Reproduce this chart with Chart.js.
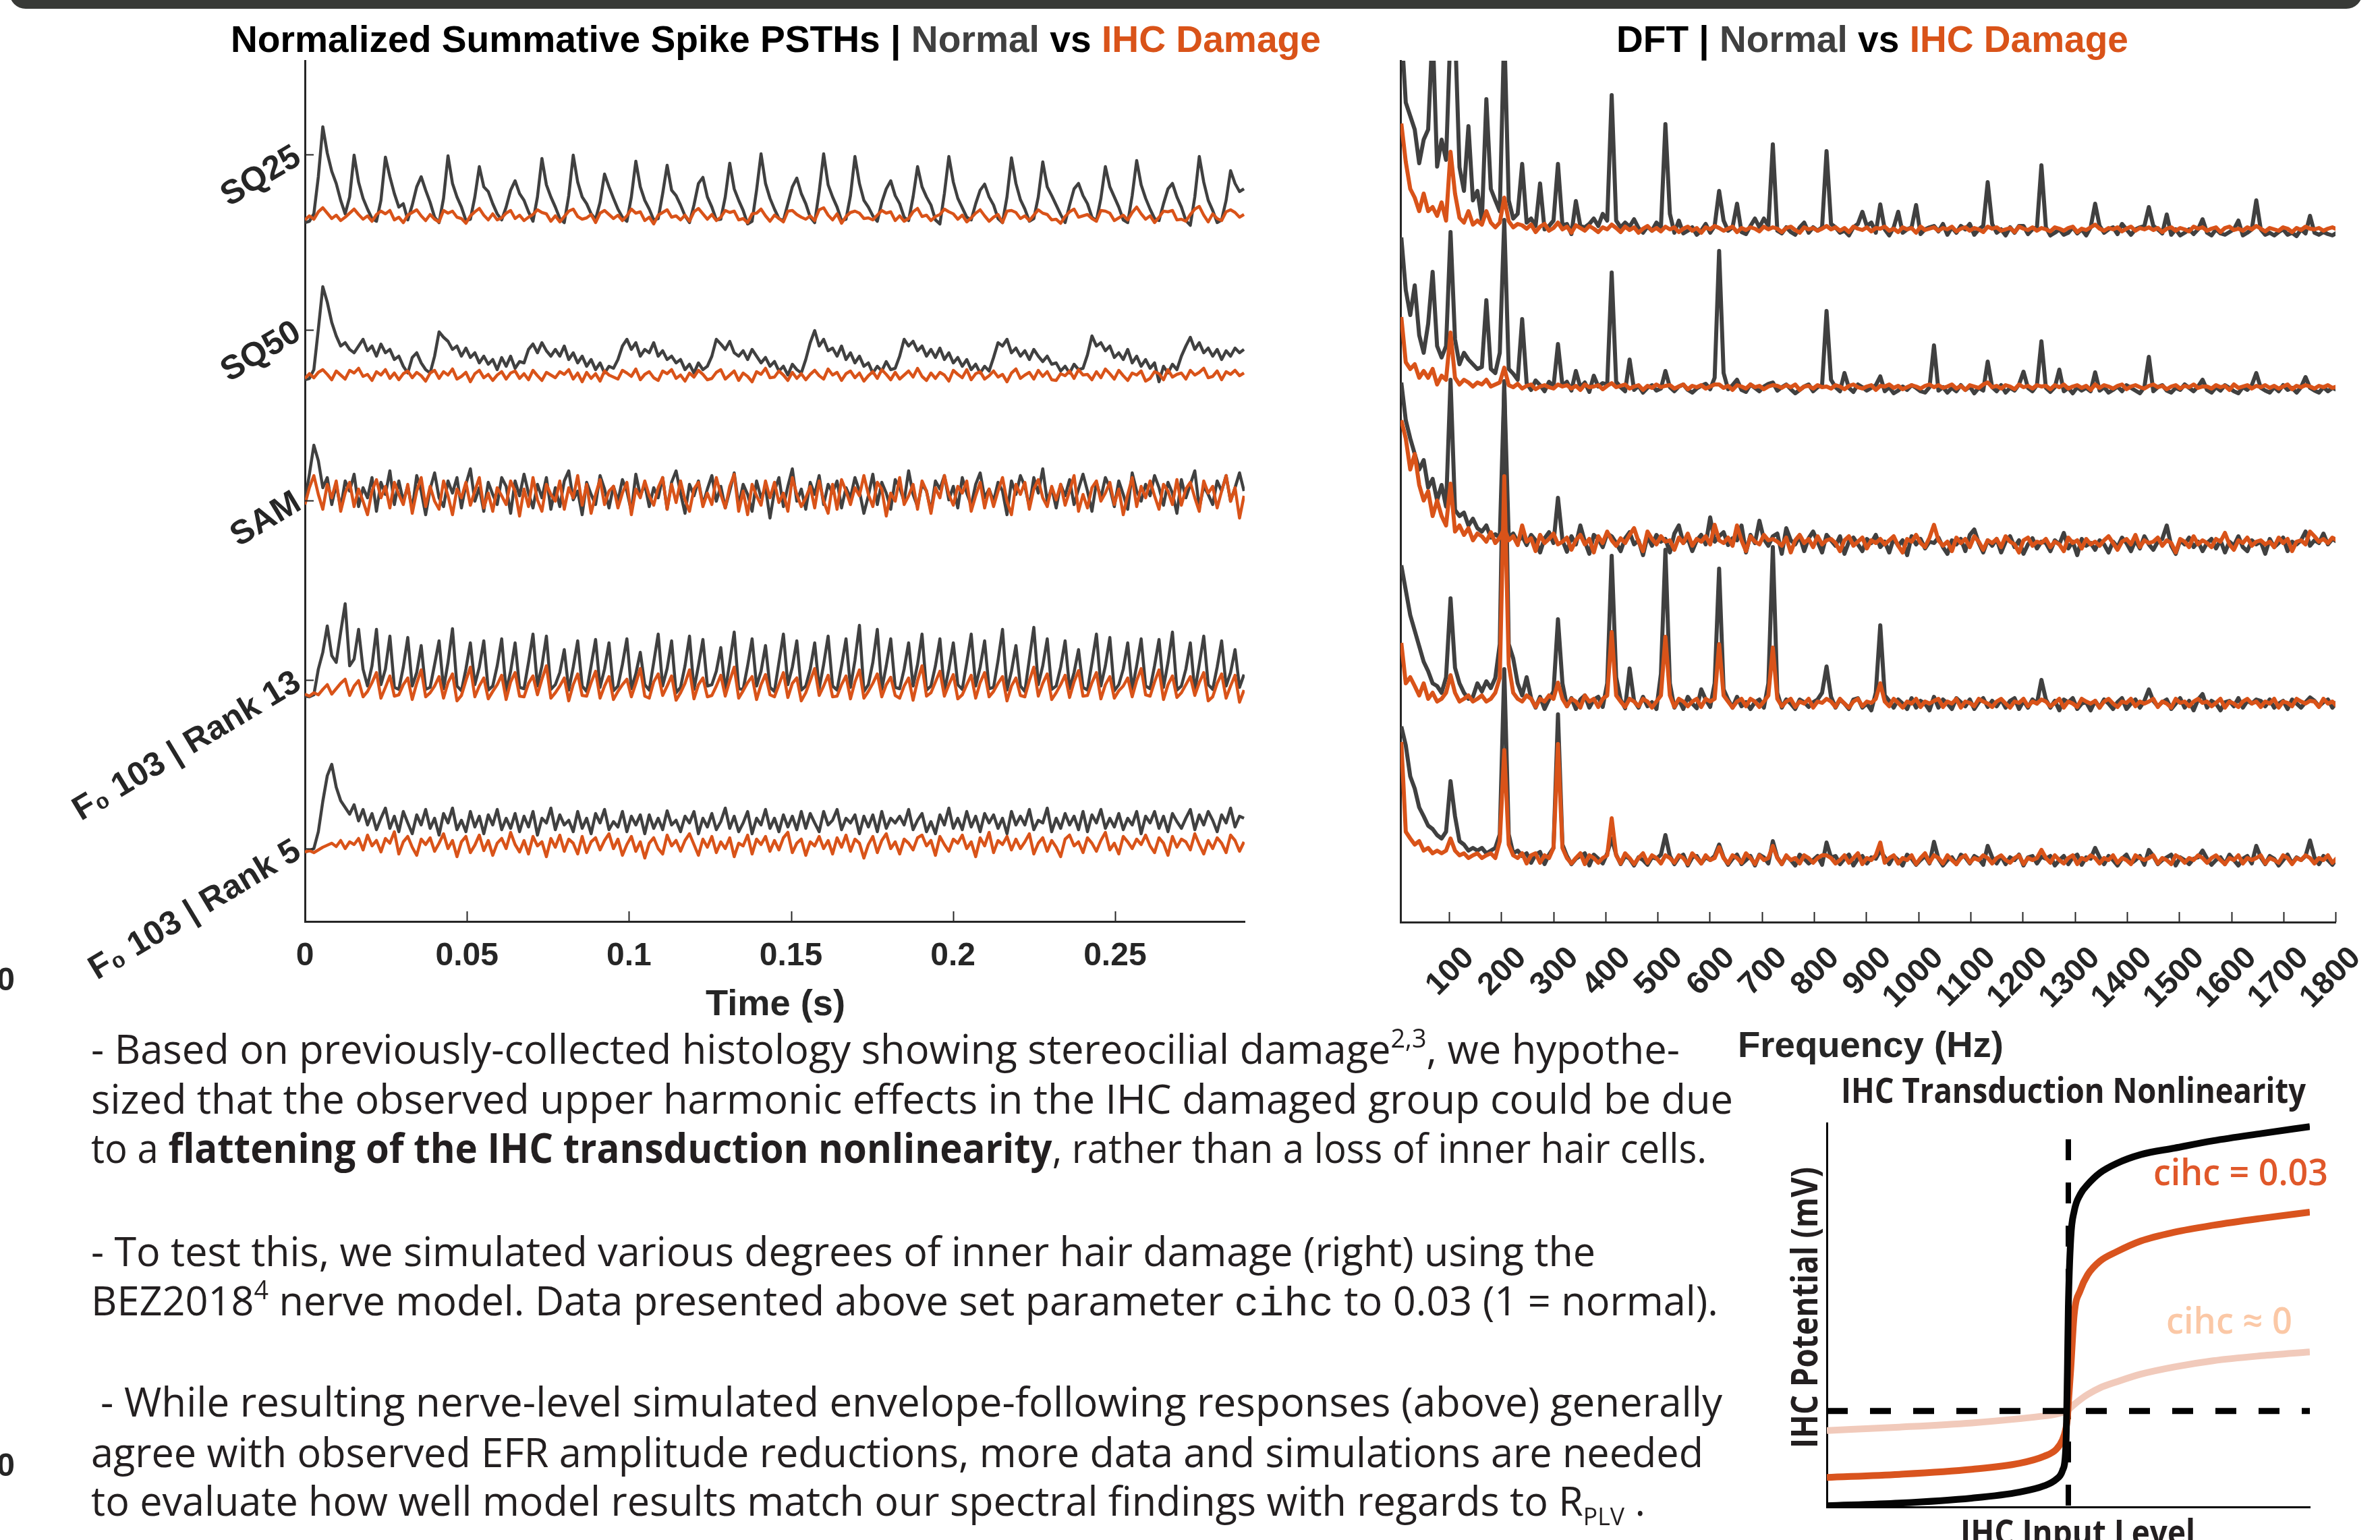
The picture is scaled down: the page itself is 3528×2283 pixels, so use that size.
<!DOCTYPE html>
<html>
<head>
<meta charset="utf-8">
<script src="https://cdn.jsdelivr.net/npm/chart.js@4.4.1/dist/chart.umd.min.js"></script>
<style>
  html, body { margin: 0; padding: 0; background: #fff; width: 3528px; height: 2283px; overflow: hidden; }
  body { position: relative; }
  canvas { position: absolute; }
  svg { position: absolute; left: 0; top: 0; }
</style>
</head>
<body>
<canvas id="psthChart" width="1900" height="1600" style="left:0;top:0"></canvas>
<canvas id="dftChart" width="1578" height="1600" style="left:1950px;top:0"></canvas>
<canvas id="ihcChart" width="928" height="683" style="left:2600px;top:1600px"></canvas>

<svg width="3528" height="2283" viewBox="0 0 3528 2283" xmlns="http://www.w3.org/2000/svg">
  <rect x="14" y="-40" width="3488" height="53" rx="24" fill="#383a37"/>

  <!-- panel titles -->
  <text x="342" y="77" textLength="1616" lengthAdjust="spacingAndGlyphs" font-family="'Liberation Sans', Arial, sans-serif" font-weight="bold" font-size="55" fill="#000">Normalized Summative Spike PSTHs | <tspan fill="#404040">Normal</tspan> vs <tspan fill="#D95319">IHC Damage</tspan></text>
  <text x="2396" y="77" textLength="759" lengthAdjust="spacingAndGlyphs" font-family="'Liberation Sans', Arial, sans-serif" font-weight="bold" font-size="55" fill="#000">DFT | <tspan fill="#404040">Normal</tspan> vs <tspan fill="#D95319">IHC Damage</tspan></text>

  <!-- axis titles -->
  <text x="1046" y="1505" textLength="207" lengthAdjust="spacingAndGlyphs" font-family="'Liberation Sans', Arial, sans-serif" font-weight="bold" font-size="54" fill="#262626">Time (s)</text>
  <text x="2576" y="1567" textLength="394" lengthAdjust="spacingAndGlyphs" font-family="'Liberation Sans', Arial, sans-serif" font-weight="bold" font-size="54" fill="#262626">Frequency (Hz)</text>

  <!-- cut-off labels of the neighbouring panel -->
  <text x="22" y="1468" text-anchor="end" font-family="'Liberation Sans', Arial, sans-serif" font-weight="bold" font-size="48" fill="#262626">0</text>
  <text x="22" y="2188" text-anchor="end" font-family="'Liberation Sans', Arial, sans-serif" font-weight="bold" font-size="48" fill="#262626">0</text>

  <!-- body text -->
  <g font-family="'Open Sans', 'Noto Sans', sans-serif" font-size="60" fill="#231f20">
    <text x="135" y="1577" textLength="2355" lengthAdjust="spacingAndGlyphs">- Based on previously-collected histology showing stereocilial damage<tspan font-size="38" dy="-24">2,3</tspan><tspan dy="24">, we hypothe-</tspan></text>
    <text x="135" y="1651" textLength="2434" lengthAdjust="spacingAndGlyphs">sized that the observed upper harmonic effects in the IHC damaged group could be due</text>
    <text x="135" y="1724" textLength="2395" lengthAdjust="spacingAndGlyphs">to a <tspan font-weight="bold">flattening of the IHC transduction nonlinearity</tspan>, rather than a loss of inner hair cells.</text>
    <text x="135" y="1877" textLength="2230" lengthAdjust="spacingAndGlyphs">- To test this, we simulated various degrees of inner hair damage (right) using the</text>
    <text x="135" y="1950" textLength="2412" lengthAdjust="spacingAndGlyphs">BEZ2018<tspan font-size="38" dy="-24">4</tspan><tspan dy="24"> nerve model. Data presented above set parameter </tspan><tspan font-family="'Liberation Mono', monospace" font-size="62">cihc</tspan> to 0.03 (1 = normal).</text>
    <text x="149" y="2100" textLength="2404" lengthAdjust="spacingAndGlyphs">- While resulting nerve-level simulated envelope-following responses (above) generally</text>
    <text x="135" y="2175" textLength="2390" lengthAdjust="spacingAndGlyphs">agree with observed EFR amplitude reductions, more data and simulations are needed</text>
    <text x="135" y="2247" textLength="2304" lengthAdjust="spacingAndGlyphs">to evaluate how well model results match our spectral findings with regards to R<tspan font-size="36" dy="14">PLV</tspan><tspan dy="-14"> .</tspan></text>
  </g>

  <!-- inset texts -->
  <g font-family="'Open Sans', 'Noto Sans', sans-serif">
    <text x="2729" y="1635" textLength="689" lengthAdjust="spacingAndGlyphs" font-weight="bold" font-size="52" fill="#231f20">IHC Transduction Nonlinearity</text>
    <text x="3192" y="1757" textLength="259" lengthAdjust="spacingAndGlyphs" font-weight="600" font-size="54" fill="#e0582a">cihc = 0.03</text>
    <text x="3211" y="1977" textLength="187" lengthAdjust="spacingAndGlyphs" font-weight="600" font-size="54" fill="#fbc8a6">cihc ≈ 0</text>
    <text transform="translate(2694,2147) rotate(-90)" x="0" y="0" textLength="417" lengthAdjust="spacingAndGlyphs" font-weight="bold" font-size="54" fill="#231f20">IHC Potential (mV)</text>
    <text x="2906" y="2290" textLength="348" lengthAdjust="spacingAndGlyphs" font-weight="bold" font-size="52" fill="#231f20">IHC Input Level</text>
  </g>
</svg>

<script>
// ---------- PSTH data (values in px-like units above each row's baseline) ----------
const psthDt = 0.00138;
const psthTickValues = [0, 0.05, 0.1, 0.15, 0.2, 0.25];
const psthTickLabels = ["0", "0.05", "0.1", "0.15", "0.2", "0.25"];
const psthRowNames = ["SQ25", "SQ50", "SAM", "F\u2080 103 | Rank 13", "F\u2080 103 | Rank 5"];
const psthRowLevels = [1137, 877, 624, 358, 108];
const psthBaselines = [1044, 808, 623, 339, 108];

const psthSQ25Normal = [
  -8,-6,5,60,134,95,68, 50,25,5,30,92,52,28,
  12,-2,-6,25,89,60,35, 15,20,-4,18,45,60,40,
  22,0,-8,28,91,50,30, 15,-5,-3,30,75,45,38,
  20,5,-4,15,40,54,35, 25,8,-6,30,87,48,30,
  15,-2,-8,32,92,52,30, 20,5,-3,22,64,45,28,
  12,0,-6,30,83,45,25, 12,-4,-2,35,77,40,32,
  18,2,-8,18,50,59,30, 15,-4,-3,30,80,42,25,
  10,-10,-6,40,94,50,28, 12,-2,-5,20,45,58,35,
  20,0,-8,38,94,48,30, 15,-5,-3,32,90,50,25,
  15,2,-6,22,42,54,32, 20,0,-5,30,75,45,30,
  18,-4,-10,35,90,52,28, 14,0,-4,20,40,49,30,
  18,-2,-8,30,88,50,26, 12,-6,-2,30,82,45,32,
  18,4,-8,18,42,50,32, 20,0,-5,28,75,45,30,
  15,-4,-8,32,84,48,28, 12,-2,-5,20,42,50,30,
  15,-5,-12,30,90,52,25, 10,-8,-4,25,69,50,38,
  42
];
const psthSQ25Damage = [
  -4,2,-3,8,14,6,-2, 3,-5,0,6,12,4,-3,
  2,-6,4,9,5,10,-4, 0,-8,3,7,11,2,-5,
  4,-3,-7,10,6,9,0, -2,-9,2,8,13,3,-4,
  5,-4,-1,6,10,-2,3, -5,0,4,11,7,5,-6,
  2,-7,1,9,12,1,-3, -1,4,-8,6,10,4,-2,
  3,-5,2,12,6,8,-5, 0,-10,3,7,11,0,2,
  -4,3,-6,8,13,5,-3, 4,-5,0,10,7,9,-4,
  -2,-8,5,6,12,2,-6, 3,-2,-7,9,10,4,0,
  -3,2,-5,11,14,3,-4, 5,-9,1,7,9,6,-2,
  -1,-4,3,10,6,8,-5, 2,-6,-2,8,13,1,3,
  -5,1,4,12,8,5,-3, 3,-7,-1,6,11,2,-6,
  0,4,-8,9,10,7,-2, 2,-5,3,11,6,4,-4,
  -3,-9,1,8,12,0,2, 4,-2,-6,10,9,6,-5,
  -1,3,-4,7,15,5,-3, 2,-8,0,9,8,10,-4,
  -3,-6,4,12,16,3,-7, 5,-2,-5,8,11,7,0,
  4
];
const psthSQ50Normal = [
  -5,-3,10,70,133,110,80, 60,45,50,40,35,45,55,
  38,45,30,48,35,40,25, 30,15,5,28,35,20,10,
  5,30,66,58,52,40,45, 30,42,28,35,20,30,18,
  25,10,28,15,30,12,22, 20,40,48,35,50,38,30,
  40,30,45,25,35,20,30, 15,25,10,20,5,15,12,
  25,45,55,40,50,30,40, 35,50,30,38,25,30,20,
  25,10,18,5,20,10,15, 30,55,48,40,52,35,30,
  38,25,40,30,20,28,15, 22,8,15,2,18,10,5,
  25,50,68,45,55,38,42, 30,45,25,35,20,30,15,
  20,5,15,8,22,10,12, 30,55,45,52,38,45,30,
  40,28,42,25,35,20,28, 15,25,10,18,5,15,8,
  28,50,45,55,35,42,30, 38,25,40,30,22,30,18,
  20,8,15,5,18,10,12, 32,60,45,50,38,45,28,
  35,25,40,20,30,15,25, 12,20,-8,15,5,18,10,
  30,45,58,40,50,35,42, 30,40,25,38,30,42,35,
  40
];
const psthSQ50Damage = [
  -3,4,-2,6,10,3,-5, 8,2,-4,9,5,12,0,
  3,-6,7,2,10,-3,5, -5,4,8,-2,6,1,-7,
  5,9,-3,7,2,11,-4, 0,6,-8,4,9,-2,3,
  -6,2,7,-4,5,8,-3, 4,-5,9,1,-6,6,2,
  -2,7,3,10,-4,5,-8, 6,-3,4,-7,8,2,-1,
  -4,9,5,0,11,-5,3, 7,-2,-6,8,4,10,-3,
  2,-7,5,-1,9,3,-5, -3,6,10,-4,2,8,-6,
  5,0,-8,7,3,12,-2, -1,8,2,-6,6,-3,4,
  -5,3,9,1,-4,11,2, 6,-6,4,8,-2,5,-7,
  1,7,-3,10,3,-5,6, -4,2,8,-1,12,0,-6,
  5,-3,6,2,-7,9,3, -2,10,-5,4,7,-4,1,
  8,-1,3,-8,5,11,-3, 2,6,-4,9,0,7,-5,
  -6,4,1,8,-3,10,2, 3,-5,7,-2,11,4,-4,
  9,1,-6,5,2,8,-7, -3,7,4,-5,10,-1,3,
  5,-4,9,2,6,12,-2, 0,8,-5,7,3,9,1,
  5
];
const psthSAMNormal = [
  0,40,83,60,20,35,-5, 25,-10,30,15,40,-8,20,
  5,35,-15,28,10,45,-5, 30,0,22,-12,38,15,-20,
  18,42,5,-8,30,12,35, -10,25,48,0,20,-15,28,
  10,-5,35,22,-18,30,8, 40,12,-10,25,5,35,-12,
  20,-8,30,45,2,15,-20, 28,10,-5,38,18,-10,22,
  0,32,15,-15,40,8,25, -8,20,5,35,-12,28,45,
  12,-18,25,8,30,-5,18, 38,0,22,-10,15,42,-6,
  25,10,-15,30,5,20,-25, 15,35,-8,22,48,0,18,
  -12,28,10,38,-5,25,12, 30,-10,20,5,35,15,-18,
  8,40,-5,28,12,-12,32, 20,0,45,10,-8,25,15,
  -15,30,18,38,2,22,-10, 35,12,-6,25,42,5,18,
  0,28,15,-20,30,10,38, 22,-8,35,12,48,0,20,
  -10,25,8,32,-5,18,40, 15,-15,28,5,35,20,-8,
  30,10,-12,42,15,0,25, 8,38,20,-6,28,12,-18,
  32,5,25,45,-10,22,10, -5,30,15,38,0,20,42,
  15
];
const psthSAMDamage = [
  -5,20,38,10,-12,25,5, 30,-15,12,28,-8,18,0,
  -20,15,32,5,22,-10,28, 10,-5,25,-18,15,35,-8,
  22,0,-12,30,8,-20,18, 5,28,-6,15,35,-10,12,
  -15,20,8,-5,30,15,-22, 18,-8,35,2,-15,25,10,
  0,30,-12,20,5,38,-6, 25,-18,10,32,-5,15,22,
  -10,12,28,-20,18,5,30, 8,-6,20,35,-12,25,-2,
  30,2,-15,18,28,-8,12, -5,35,10,-10,22,40,-15,
  15,-20,25,8,-6,30,5, 28,-2,12,-15,35,10,-8,
  5,22,-10,30,0,-18,25, -12,32,15,-5,20,8,38,
  10,-8,28,18,-22,12,0, 35,-5,8,25,-12,30,15,
  -18,20,5,38,10,-6,22, 12,30,-15,8,28,-10,18,
  -8,15,35,0,-20,25,10, 28,-12,18,32,5,-8,22,
  2,25,-6,15,38,-15,10, -10,20,30,0,12,28,-5,
  18,-20,10,35,-8,22,5, 30,8,-12,25,15,-5,32,
  -6,18,28,5,-15,30,12, 22,-10,15,38,0,20,-25,
  8
];
const psthRank13Normal = [
  -5,-6,-3,35,60,99,55, 45,90,132,40,50,94,35,
  10,40,94,12,35,84,8, 5,38,82,10,30,70,5,
  8,42,77,6,45,95,10, 3,35,74,12,38,77,4,
  10,40,80,2,32,74,8, 6,45,87,10,40,84,5,
  12,30,64,4,38,77,10, 2,40,79,8,35,74,3,
  10,42,80,6,28,60,12, 4,45,87,10,36,77,0,
  8,40,84,5,40,79,10, 12,32,67,3,45,90,6,
  5,40,80,10,32,70,8, 2,45,87,12,38,77,4,
  10,35,74,6,42,84,10, 4,40,80,8,48,100,2,
  12,45,94,5,40,80,8, 6,35,74,10,42,87,4,
  10,40,80,2,35,74,12, 5,45,87,10,38,77,6,
  8,48,94,4,32,70,10, 2,50,97,12,40,80,5,
  10,38,77,6,30,64,8, 4,45,87,10,40,82,3,
  12,35,74,5,40,80,10, 6,40,79,8,45,90,4,
  10,35,74,2,42,84,12, 5,38,77,10,30,64,8,
  27
];
const psthRank13Damage = [
  -2,-5,0,-3,5,12,-2, 6,14,20,-4,10,18,-6,
  2,15,30,-8,8,25,-5, -3,12,22,-10,14,34,-6,
  0,10,24,-8,15,28,-12, -4,18,38,-6,10,22,-9,
  2,12,26,-10,16,30,-5, -6,14,25,-3,20,40,-8,
  0,10,22,-12,12,28,-4, -5,15,32,-8,10,24,-10,
  2,12,20,-6,14,36,-5, -8,16,28,-4,10,25,-11,
  0,14,34,-9,12,22,-6, -4,10,26,-5,18,38,-8,
  3,15,24,-10,12,27,-3, -6,12,30,-7,14,22,-12,
  0,18,36,-4,10,26,-6, -5,12,25,-9,16,34,-8,
  2,14,28,-6,12,23,-4, -8,10,22,-11,18,40,-5,
  0,16,32,-5,12,27,-9, -3,12,26,-8,15,30,-6,
  2,14,24,-12,10,22,-4, -6,18,38,-5,14,28,-10,
  0,12,26,-7,16,33,-5, -4,15,30,-9,12,24,-8,
  3,10,22,-6,18,36,-3, -5,16,34,-10,12,25,-7,
  0,12,24,-4,15,30,-12, -6,14,28,-8,10,26,-14,
  4
];
const psthRank5Normal = [
  -5,-3,0,25,70,108,125, 91,71,61,51,65,41,58,
  35,52,28,45,60,30,48, 25,55,38,22,50,35,58,
  30,45,20,52,38,60,28, 42,25,55,32,48,22,50,
  35,58,28,45,30,52,25, 48,32,55,20,45,38,60,
  28,50,35,42,25,55,30, 45,22,52,38,58,28,40,
  32,55,25,48,35,50,22, 50,30,45,28,56,35,42,
  25,48,38,55,22,45,32, 52,28,40,60,30,48,25,
  38,55,22,45,35,58,30, 45,25,50,32,48,28,55,
  30,52,38,25,55,35,42, 58,28,45,38,50,22,48,
  32,50,25,55,30,45,38, 48,35,58,28,42,52,25,
  40,22,50,35,60,30,45, 28,55,32,48,25,52,38,
  50,30,45,22,55,35,48, 35,58,28,42,38,60,25,
  45,30,52,35,48,28,55, 25,50,38,58,30,45,32,
  52,28,45,35,55,22,48, 38,55,30,48,25,52,40,
  30,45,58,28,50,35,55, 42,25,50,38,60,32,48,
  45
];
const psthRank5Damage = [
  -5,-3,-6,-2,2,5,8, 3,12,0,10,6,15,-2,
  20,4,12,-5,15,8,25, -8,10,18,2,-10,14,6,
  16,-4,8,22,0,12,-12, 10,18,-6,5,20,-3,12,
  -10,8,15,0,24,6,-5, 12,-8,18,4,10,-12,15,
  2,20,-4,14,8,-8,18, -6,10,16,-2,12,22,0,
  14,-10,6,18,-4,10,-14, 8,16,0,-8,20,4,12,
  -4,12,22,6,-10,14,2, 18,-6,10,0,16,-12,8,
  4,20,-8,14,6,18,-4, 12,-2,16,24,-6,8,14,
  -10,10,4,18,0,12,-8, 16,2,20,-4,14,8,-14,
  6,18,-6,12,22,0,10, -8,14,8,-2,16,20,4,
  12,-10,18,6,-4,14,8, 20,0,10,-12,16,4,24,
  -6,12,6,18,-2,14,0, 10,22,-8,8,16,-4,12,
  2,-12,14,20,4,10,-6, 16,8,-4,12,24,-2,8,
  -8,18,10,0,14,6,20, 4,-6,16,8,-10,18,2,
  14,10,-2,22,6,-8,12, 0,16,8,-6,20,12,-4,
  10
];

// ---------- DFT data (bins of 103/12 Hz, values above each row's baseline) ----------
const dftBin = 103 / 12;
const dftTickValues = [100, 200, 300, 400, 500, 600, 700, 800, 900, 1000, 1100, 1200, 1300, 1400, 1500, 1600, 1700, 1800];
const dftTickLabels = ["100", "200", "300", "400", "500", "600", "700", "800", "900", "1000", "1100", "1200", "1300", "1400", "1500", "1600", "1700", "1800"];
const dftBaselines = [1025, 791, 554, 322, 90];

const dftSQ25Normal = [
  300,190,170,150,100,135,150,300,95,135,105,300,
  300,94,59,155,45,59,15,195,62,45,29,300,
  45,18,25,99,12,18,7,70,2,7,15,99,
  8,10,-5,44,7,5,10,18,7,25,15,201,
  15,5,12,6,17,4,-3,6,0,12,5,158,
  25,-3,15,-4,0,5,-6,0,10,-3,7,59,
  15,0,5,40,-2,-5,7,18,5,18,7,128,
  0,-4,5,-2,-6,5,12,-3,5,0,5,118,
  10,5,-3,0,-7,5,10,28,7,12,-3,39,
  2,-7,5,28,-3,2,5,38,-5,2,5,7,
  -1,10,-6,5,-3,7,2,10,-6,2,7,72,
  10,-3,2,-7,5,-3,7,7,-5,2,5,97,
  5,-7,-3,2,-6,-3,5,-4,2,-7,5,40,
  7,-3,2,5,-5,10,2,-6,2,5,7,35,
  7,2,-4,24,-6,2,-7,-3,2,-5,2,17,
  -3,-7,2,-4,-6,-2,2,15,-7,-3,2,45,
  2,-6,-3,-7,-2,2,-6,-3,-8,2,-4,22,
  -3,-6,-2,-5,-7,-3
];
const dftSQ25Damage = [
  159,102,62,49,29,55,29,35,22,42,15,117,
  55,19,12,29,9,15,9,29,12,5,12,49,
  14,5,10,8,3,9,-2,6,10,0,4,12,
  2,6,-3,8,4,0,7,3,-2,5,2,9,
  4,-2,6,1,5,-3,3,7,0,4,-1,6,
  2,5,-2,3,6,0,4,-3,5,2,7,4,
  0,3,6,-2,4,1,5,3,-1,6,2,5,
  3,-2,4,6,1,-3,5,2,4,0,3,7,
  2,5,0,4,-2,6,3,1,5,-1,4,3,
  6,0,3,-2,5,2,4,-3,6,1,3,5,
  0,4,2,6,-1,3,5,0,4,2,-2,6,
  3,5,0,2,4,-2,6,3,1,5,0,4,
  2,-1,5,3,0,4,6,-2,3,1,5,9,
  3,0,4,2,5,-1,3,6,0,4,2,5,
  1,4,-2,3,5,0,4,2,-1,6,3,5,
  0,3,5,-2,4,6,1,3,0,5,2,7,
  3,-1,4,2,0,5,3,-2,4,1,6,3,
  2,4,0,3,5,2
];
const dftSQ50Normal = [
  224,146,109,153,79,53,96,173,63,46,63,232,
  73,36,53,43,36,29,32,131,29,23,53,250,
  29,22,13,103,8,-2,12,5,-4,10,3,66,
  4,10,-3,26,2,9,-5,19,3,8,6,172,
  10,2,-4,43,-2,4,-6,1,5,-3,0,26,
  2,-4,3,6,-2,-6,0,4,7,-1,16,204,
  23,-1,5,13,-2,-5,6,1,-4,3,7,9,
  -3,2,6,-1,-7,-2,3,6,-4,2,5,115,
  13,2,-4,23,1,-5,6,2,-3,1,5,18,
  -4,2,-7,-3,3,-2,5,1,-4,-6,2,64,
  -3,2,-6,1,-4,5,-2,3,-7,1,-3,40,
  2,-4,5,-6,1,-3,6,25,1,-4,5,70,
  1,-5,2,28,-4,1,-7,2,-3,1,-4,24,
  -3,2,-6,-2,3,-4,5,1,-3,-7,2,47,
  -4,2,5,-3,-6,1,-2,6,1,-4,3,13,
  -2,-6,2,-3,5,1,-4,-7,2,-2,5,23,
  1,-3,-6,2,-4,5,-2,1,-6,2,17,1,
  -3,-6,2,-4,1,-2
];
const dftSQ50Damage = [
  106,39,29,36,16,26,16,29,6,19,13,83,
  16,6,13,9,3,9,6,13,3,6,9,31,
  5,2,7,0,4,6,-1,3,5,2,0,6,
  3,5,0,4,-2,6,2,3,5,-1,4,8,
  2,4,6,0,3,5,-2,4,1,6,2,4,
  5,0,3,6,-1,4,2,5,0,3,6,6,
  1,4,-2,5,3,0,6,2,4,-1,3,5,
  4,1,5,2,6,-2,3,4,0,5,2,3,
  0,5,3,-1,4,6,2,0,3,5,-2,4,
  3,6,1,4,-1,2,5,3,0,4,6,2,
  5,1,3,6,0,4,-2,5,3,1,6,9,
  2,4,0,5,3,-1,6,2,4,0,5,3,
  4,-1,5,2,6,0,3,5,1,4,-2,6,
  1,5,3,0,4,6,-1,3,5,2,0,4,
  6,2,4,-1,3,5,0,4,2,6,1,3,
  3,0,5,2,4,-2,6,1,3,5,0,4,
  2,5,1,4,0,3,6,-1,4,2,5,3,
  0,4,2,5,1,3
];
const dftSAMNormal = [
  246,190,163,140,117,131,90,103,71,94,62,250,
  57,48,53,34,44,30,25,34,16,21,16,240,
  16,22,10,18,5,20,12,-6,15,24,8,75,
  12,-5,18,6,34,10,-8,20,14,2,22,18,
  8,-4,15,24,6,12,-10,18,4,20,10,14,
  -6,22,34,8,15,-4,12,20,6,46,10,18,
  24,5,15,12,34,-6,20,8,41,14,4,18,
  22,-8,30,12,6,18,-4,15,25,10,-6,20,
  12,4,18,-8,10,16,6,-4,14,8,20,2,
  10,-6,15,4,12,-10,18,6,14,0,10,8,
  16,2,-8,12,6,14,-4,20,28,8,-6,12,
  4,14,-6,10,18,2,12,-8,6,15,0,10,
  8,-4,12,6,23,0,10,-10,14,4,8,-2,
  12,6,-6,10,2,16,8,-4,12,0,18,6,
  -2,10,14,34,4,-8,12,6,16,2,10,-4,
  8,14,0,12,-6,10,4,18,2,-4,12,6,
  10,-8,14,2,8,16,-4,10,6,12,25,4,
  12,8,22,6,14,10
];
const dftSAMDamage = [
  190,163,117,140,94,71,85,48,71,48,34,96,
  25,34,20,30,12,22,18,10,24,8,16,30,
  12,18,5,34,10,15,-4,20,8,14,22,6,
  10,16,-2,12,20,6,14,-6,18,8,25,12,
  4,15,8,20,30,10,-4,25,14,6,18,10,
  12,-2,16,8,22,4,14,10,18,6,35,12,
  8,16,4,34,12,-4,18,10,6,20,12,14,
  10,4,16,-6,12,20,8,14,2,18,6,12,
  14,8,-4,12,18,4,10,16,0,12,8,14,
  6,12,18,4,-6,14,10,20,8,2,16,35,
  12,4,10,-4,16,8,14,2,18,10,-2,12,
  8,14,2,18,10,6,-6,12,16,4,10,8,
  14,2,10,6,-4,16,8,12,0,14,6,10,
  4,12,18,8,-2,10,14,6,20,2,12,8,
  10,16,4,12,8,-6,14,10,2,18,6,12,
  8,2,14,10,23,6,-2,12,8,16,4,10,
  12,6,10,2,16,8,14,-4,10,12,6,25,
  18,10,14,8,16,12
];
const dftRank13Normal = [
  207,170,133,110,87,64,50,32,28,18,41,158,
  55,32,18,9,12,32,20,35,25,40,90,480,
  90,69,32,14,41,10,-4,12,-6,8,20,127,
  32,-2,10,-6,8,14,-4,8,12,-3,32,221,
  41,8,-5,54,6,-4,12,-2,4,-6,46,230,
  32,-4,8,-6,12,2,-5,23,8,-3,32,202,
  23,8,-4,12,-2,4,-6,4,8,-4,32,234,
  18,-4,8,2,-6,8,4,-3,4,8,18,57,
  12,-4,8,2,-6,8,10,-4,2,-8,18,118,
  14,6,-4,8,2,-6,10,-4,6,2,-8,12,
  -4,8,2,-6,10,4,-2,8,-6,4,10,-3,
  6,-2,8,-4,6,10,-6,6,-4,8,2,37,
  8,-4,6,-8,8,4,10,-6,2,4,-8,6,
  -4,8,2,-6,4,10,-6,2,8,-4,6,23,
  6,-2,4,8,-6,2,10,-4,6,-8,8,16,
  -4,6,2,-8,4,6,-2,10,-4,6,2,8,
  6,-2,8,-4,2,6,-6,8,2,-4,4,11,
  6,-2,4,8,-4,4
];
const dftRank13Damage = [
  92,32,41,28,14,32,9,18,5,9,18,44,
  18,5,9,14,5,9,14,5,9,18,40,339,
  60,18,9,5,14,9,-3,9,5,14,9,33,
  9,-2,9,5,-4,14,5,9,-3,9,14,108,
  14,5,-3,9,5,-2,9,5,-4,5,14,101,
  14,-3,9,5,-2,5,9,-3,9,5,9,90,
  14,5,-4,5,9,-2,9,5,-3,5,14,85,
  9,-2,5,9,-3,5,2,9,-4,5,3,9,
  5,-3,9,2,-4,5,9,-2,5,3,9,32,
  5,-2,9,3,-4,5,2,9,-3,5,2,6,
  9,-3,5,2,9,-4,5,3,-2,9,5,2,
  -3,5,9,2,-4,5,3,9,-2,5,2,8,
  5,-2,3,9,-4,5,2,-3,9,5,2,6,
  -4,5,9,2,-3,5,3,9,-2,5,2,5,
  9,-3,5,2,-4,9,3,5,-2,5,9,3,
  5,-2,3,9,-4,5,2,-3,5,9,2,5,
  -3,5,2,9,-4,5,3,-2,9,5,2,6,
  5,-3,9,2,5,-2
];
const dftRank5Normal = [
  200,172,126,108,80,67,53,48,39,34,44,119,
  67,30,25,16,20,16,20,12,16,20,40,285,
  40,12,16,8,12,-2,10,14,-4,10,20,218,
  25,8,-4,4,8,12,-6,10,4,-3,12,34,
  10,-4,8,4,-6,6,2,-5,6,4,10,39,
  8,-4,6,10,-6,6,8,-3,6,2,8,25,
  6,-5,4,10,-4,2,8,-6,10,6,-3,30,
  6,-4,8,2,-6,10,4,-3,2,8,-5,28,
  6,8,-4,4,10,-6,4,8,-3,6,4,16,
  6,-4,8,2,-6,10,4,-5,2,8,-3,29,
  4,-6,2,6,-4,10,6,-3,8,4,-5,23,
  6,-3,8,-4,6,2,10,-6,6,8,-3,7,
  4,8,-6,2,8,-4,6,10,-5,6,4,20,
  6,-4,8,2,-6,4,10,-3,2,8,-5,17,
  8,-4,2,6,10,-6,6,2,-4,4,6,16,
  4,-5,2,6,-4,10,2,-6,4,8,-3,23,
  6,-4,8,4,-6,2,10,-3,6,2,8,31,
  6,-4,8,2,-5,4
];
const dftRank5Damage = [
  177,44,34,25,30,16,20,12,16,12,16,34,
  16,9,12,5,9,12,5,9,12,5,30,165,
  25,9,5,12,-3,9,12,-2,9,5,20,174,
  20,5,-3,5,12,-4,9,5,-2,5,9,64,
  9,-3,12,5,-4,5,12,-2,9,5,-3,9,
  5,-2,9,5,-4,12,5,-3,9,2,5,21,
  5,-3,9,5,-2,12,5,-4,9,2,5,23,
  5,-4,9,2,5,-3,9,5,-2,5,9,9,
  5,-3,2,9,-2,5,12,-4,5,2,9,28,
  -2,5,9,-3,5,2,9,-4,5,12,-2,9,
  5,-3,9,2,-4,5,9,-2,5,2,9,5,
  -3,5,9,2,-2,5,9,-4,5,2,5,17,
  5,-2,9,2,-3,5,9,-4,5,2,9,5,
  -3,5,2,9,-2,5,2,-4,9,5,2,5,
  9,-3,5,2,-4,9,5,-2,5,2,9,5,
  -2,5,9,2,-4,5,2,9,-3,5,2,5,
  9,-3,5,2,-2,9,5,-4,5,2,9,5,
  -3,5,2,9,-2,5
];

// ---------- IHC transduction inset (input level 0-100, potential 0-100) ----------
const ihcInput = [0, 15, 30, 40, 45, 47.5, 48.8, 49.5, 49.8, 50, 50.5, 51.2, 52.5, 54, 56.5, 60, 65, 72, 80, 90, 100];
const ihcNormal = [0.3, 1.0, 2.3, 3.9, 5.5, 7.2, 9.5, 16, 35, 52, 70, 77, 81.5, 84, 87, 89.5, 91.8, 93.5, 95.4, 97.3, 99.1];
const ihcDamaged = [7.7, 8.5, 9.8, 11.4, 13.2, 15, 17.5, 20.5, 23, 27, 36, 50, 56.5, 60.5, 64, 66.5, 69.3, 71.6, 73.4, 75.2, 76.8];
const ihcNoGain = [19.9, 20.8, 21.9, 23, 23.7, 24.2, 24.6, 24.9, 25.1, 25.3, 25.9, 26.7, 28, 29.3, 31, 32.6, 34.6, 36.5, 38.1, 39.4, 40.4];
const ihcRestLevel = 25;
const ihcMidInput = 50;
const ihcMidTop = 95.8;

// ---------- setup ----------
const normalColor = "#404040";
const damageColor = "#D95319";
const axisColor = "#262626";
const labelFont = "'Liberation Sans', Arial, sans-serif";

Chart.defaults.animation = false;
Chart.defaults.font.family = labelFont;
Chart.defaults.color = axisColor;

// short tick marks drawn inside the plot, like the original figure
const innerTicks = {
  id: "innerTicks",
  afterDraw(chart, args, opts) {
    const ctx = chart.ctx;
    ctx.save();
    ctx.strokeStyle = opts.color;
    ctx.lineWidth = opts.width;
    if (opts.x) {
      const sx = chart.scales.x;
      sx.ticks.forEach((t) => {
        const px = Math.round(sx.getPixelForValue(t.value)) + 0.5;
        ctx.beginPath();
        ctx.moveTo(px, sx.top);
        ctx.lineTo(px, sx.top - opts.x);
        ctx.stroke();
      });
    }
    if (opts.y) {
      const sy = chart.scales.y;
      sy.ticks.forEach((t) => {
        const py = Math.round(sy.getPixelForValue(t.value)) + 0.5;
        ctx.beginPath();
        ctx.moveTo(sy.right, py);
        ctx.lineTo(sy.right + opts.y, py);
        ctx.stroke();
      });
    }
    ctx.restore();
  },
};

function lineSet(label, data, color, width, order) {
  return {
    label: label,
    data: data,
    borderColor: color,
    borderWidth: width,
    borderJoinStyle: "round",
    pointRadius: 0,
    tension: 0,
    fill: false,
    order: order,
  };
}

// PSTH panel
const psthNormals = [psthSQ25Normal, psthSQ50Normal, psthSAMNormal, psthRank13Normal, psthRank5Normal];
const psthDamages = [psthSQ25Damage, psthSQ50Damage, psthSAMDamage, psthRank13Damage, psthRank5Damage];
const psthDatasets = [];
psthNormals.forEach((values, r) => {
  const base = psthBaselines[r];
  psthDatasets.push(lineSet("Normal " + psthRowNames[r], values.map((v, i) => ({ x: i * psthDt, y: base + v })), normalColor, 4.5, 1));
  psthDatasets.push(lineSet("IHC Damage " + psthRowNames[r], psthDamages[r].map((v, i) => ({ x: i * psthDt, y: base + v })), damageColor, 4.5, 0));
});

new Chart(document.getElementById("psthChart"), {
  type: "line",
  data: { datasets: psthDatasets },
  options: {
    responsive: false,
    layout: { padding: { top: 90, right: 55, left: 0, bottom: 0 } },
    plugins: {
      legend: { display: false },
      tooltip: { enabled: false },
      innerTicks: { x: 15, y: 13, color: axisColor, width: 2 },
    },
    scales: {
      x: {
        type: "linear",
        min: 0,
        max: 0.29,
        border: { display: true, color: axisColor, width: 3 },
        grid: { display: false, drawTicks: false },
        afterBuildTicks: (s) => { s.ticks = psthTickValues.map((v) => ({ value: v })); },
        ticks: {
          autoSkip: false,
          maxRotation: 0,
          padding: 23,
          color: axisColor,
          font: { size: 48, weight: "bold" },
          callback: (v, i) => psthTickLabels[i],
        },
        afterFit: (s) => { s.height = 234; },
      },
      y: {
        type: "linear",
        min: 0,
        max: 1276,
        border: { display: true, color: axisColor, width: 3 },
        grid: { display: false, drawTicks: false },
        afterBuildTicks: (s) => { s.ticks = psthRowLevels.map((v) => ({ value: v })); },
        ticks: {
          autoSkip: false,
          minRotation: 31,
          maxRotation: 90,
          padding: 10,
          color: axisColor,
          font: { size: 50, weight: "bold" },
          callback: (v, i) => psthRowNames[i],
        },
        afterFit: (s) => { s.width = 452; },
      },
    },
  },
  plugins: [innerTicks],
});

// DFT panel
const dftNormals = [dftSQ25Normal, dftSQ50Normal, dftSAMNormal, dftRank13Normal, dftRank5Normal];
const dftDamages = [dftSQ25Damage, dftSQ50Damage, dftSAMDamage, dftRank13Damage, dftRank5Damage];
const dftDatasets = [];
dftNormals.forEach((values, r) => {
  const base = dftBaselines[r];
  dftDatasets.push(lineSet("Normal " + psthRowNames[r], values.map((v, i) => ({ x: (i + 1) * dftBin, y: base + v })), normalColor, 6, 1));
  dftDatasets.push(lineSet("IHC Damage " + psthRowNames[r], dftDamages[r].map((v, i) => ({ x: (i + 1) * dftBin, y: base + v })), damageColor, 6, 0));
});

new Chart(document.getElementById("dftChart"), {
  type: "line",
  data: { datasets: dftDatasets },
  options: {
    responsive: false,
    layout: { padding: { top: 90, right: 58, left: 0, bottom: 0 } },
    plugins: {
      legend: { display: false },
      tooltip: { enabled: false },
      innerTicks: { x: 15, y: 0, color: axisColor, width: 2 },
    },
    scales: {
      x: {
        type: "linear",
        min: 7,
        max: 1800,
        border: { display: true, color: axisColor, width: 3 },
        grid: { display: false, drawTicks: false },
        afterBuildTicks: (s) => { s.ticks = dftTickValues.map((v) => ({ value: v })); },
        ticks: {
          autoSkip: false,
          minRotation: 45,
          maxRotation: 45,
          padding: 26,
          labelOffset: 30,
          color: axisColor,
          font: { size: 47, weight: "bold" },
          callback: (v, i) => dftTickLabels[i],
        },
        afterFit: (s) => { s.height = 233; },
      },
      y: {
        type: "linear",
        min: 0,
        max: 1277,
        border: { display: true, color: axisColor, width: 3 },
        grid: { display: false, drawTicks: false },
        ticks: { display: false },
        afterFit: (s) => { s.width = 126; },
      },
    },
  },
  plugins: [innerTicks],
});

// IHC transduction inset
const xy = (xs, ys) => xs.map((x, i) => ({ x: x, y: ys[i] }));
const ihcSets = [
  Object.assign(lineSet("cihc = 1", xy(ihcInput, ihcNormal), "#050505", 10, 0), { cubicInterpolationMode: "monotone" }),
  Object.assign(lineSet("cihc = 0.03", xy(ihcInput, ihcDamaged), "#d9541e", 10, 1), { cubicInterpolationMode: "monotone" }),
  Object.assign(lineSet("rest", [{ x: 0, y: ihcRestLevel }, { x: 100, y: ihcRestLevel }], "#000", 9, 2), { borderDash: [31, 33], borderJoinStyle: "miter" }),
  Object.assign(lineSet("midpoint", [{ x: ihcMidInput, y: ihcMidTop }, { x: ihcMidInput, y: 0 }], "#000", 8, 2), { borderDash: [31, 33], borderJoinStyle: "miter" }),
  Object.assign(lineSet("cihc ~ 0", xy(ihcInput, ihcNoGain), "#f1cabb", 10, 3), { cubicInterpolationMode: "monotone" }),
];

new Chart(document.getElementById("ihcChart"), {
  type: "line",
  data: { datasets: ihcSets },
  options: {
    responsive: false,
    layout: { padding: { top: 65, right: 104, left: 0, bottom: 0 } },
    plugins: { legend: { display: false }, tooltip: { enabled: false } },
    scales: {
      x: {
        type: "linear",
        min: 0,
        max: 100,
        border: { display: true, color: "#000", width: 3 },
        grid: { display: false, drawTicks: false },
        ticks: { display: false },
        afterFit: (s) => { s.height = 49; },
      },
      y: {
        type: "linear",
        min: 0,
        max: 100,
        border: { display: true, color: "#000", width: 3 },
        grid: { display: false, drawTicks: false },
        ticks: { display: false },
        afterFit: (s) => { s.width = 108; },
      },
    },
  },
});
</script>
</body>
</html>
